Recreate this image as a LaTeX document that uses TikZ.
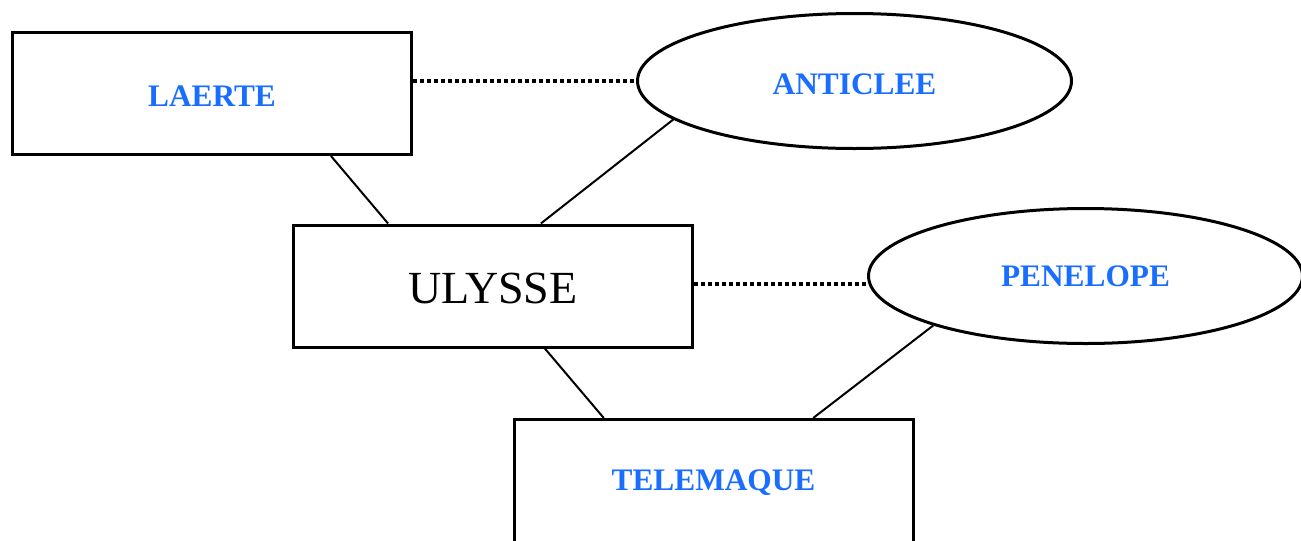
\documentclass[tikz,border=0pt]{standalone}
\usepackage{fontspec}
\setmainfont{Liberation Serif}
\usetikzlibrary{calc,shapes.geometric}
\definecolor{namecol}{HTML}{1A6EFF}
\newcommand{\pxu}{0.75pt}
% move a label vertically without changing the size of its box
\newcommand{\shiftlabel}[2]{\raisebox{#1}[\height][\depth]{#2}}
\tikzset{
  personbox/.style={draw, line width=2.25pt, rectangle, inner sep=0pt,
    minimum width=399*\pxu, minimum height=122*\pxu},
  spouseoval/.style={draw, line width=2.25pt, ellipse, inner sep=0pt,
    minimum width=434*\pxu, minimum height=135*\pxu},
  bluename/.style={text=namecol, font=\bfseries\fontsize{23.5}{26}\selectfont},
  heroname/.style={font=\fontsize{34.5}{38}\selectfont},
  kinline/.style={line width=1.5pt},
  unionline/.style={line width=3pt, dash pattern=on 3pt off 2.25pt},
}
\begin{document}
\begin{tikzpicture}[x=\pxu, y=-\pxu]
\useasboundingbox (0,0) rectangle (1301,540);
\clip (0,0) rectangle (1301,540);

% family members
\node[personbox, bluename] (laerte) at (212,93.5) {\shiftlabel{-2.25pt}{LAERTE}};
\node[spouseoval, bluename] (anticlee) at (854.5,81) {\shiftlabel{-2.25pt}{ANTICLEE}};
\node[personbox, heroname] (ulysse) at (493,286) {\shiftlabel{-1.5pt}{ULYSSE}};
\node[spouseoval, bluename] (penelope) at (1085.5,276) {PENELOPE};
\node[personbox, bluename, minimum height=140*\pxu] (telemaque)
  at (713.5,489.5) {\shiftlabel{5.5pt}{TELEMAQUE}};

% marriages
\draw[unionline] (laerte.east |- 0,81) -- (anticlee.west |- 0,81);
\draw[unionline] (ulysse.east |- 0,284) -- (penelope.west |- 0,284);

% descent
\draw[kinline] ($(laerte.south west)!0.796!(laerte.south east)$)
  -- ($(ulysse.north west)!0.239!(ulysse.north east)$);
\draw[kinline] (anticlee.192.5)
  -- ($(ulysse.north west)!0.619!(ulysse.north east)$);
\draw[kinline] ($(ulysse.south west)!0.629!(ulysse.south east)$)
  -- ($(telemaque.north west)!0.227!(telemaque.north east)$);
\draw[kinline] (penelope.198)
  -- ($(telemaque.north west)!0.748!(telemaque.north east)$);
\end{tikzpicture}
\end{document}
